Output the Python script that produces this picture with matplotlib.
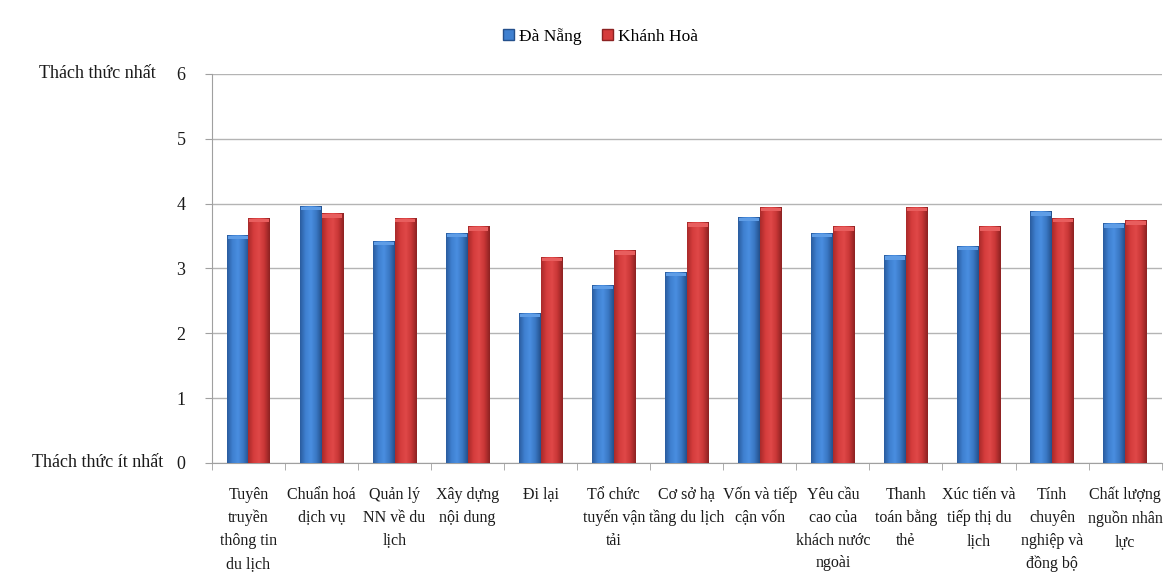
import numpy as np
import matplotlib.pyplot as plt
from matplotlib.colors import LinearSegmentedColormap
from matplotlib.patches import Patch

plt.rcParams['font.family'] = ['Liberation Serif', 'DejaVu Serif']

categories = [
    "Tuyên\ntruyền\nthông tin\ndu lịch",
    "Chuẩn hoá\ndịch vụ",
    "Quản lý\nNN về du\nlịch",
    "Xây dựng\nnội dung",
    "Đi lại",
    "Tổ chức\ntuyến vận\ntải",
    "Cơ sở hạ\ntầng du lịch",
    "Vốn và tiếp\ncận vốn",
    "Yêu cầu\ncao của\nkhách nước\nngoài",
    "Thanh\ntoán bằng\nthẻ",
    "Xúc tiến và\ntiếp thị du\nlịch",
    "Tính\nchuyên\nnghiệp và\nđồng bộ",
    "Chất lượng\nnguồn nhân\nlực",
]
da_nang = [3.52, 3.97, 3.43, 3.55, 2.32, 2.75, 2.95, 3.80, 3.55, 3.20, 3.35, 3.88, 3.70]
khanh_hoa = [3.78, 3.85, 3.78, 3.65, 3.18, 3.28, 3.71, 3.95, 3.65, 3.95, 3.65, 3.78, 3.74]
series_names = ["Đà Nẵng", "Khánh Hoà"]

# shading for the cylinder-like bars: dark edges, light middle
blue_cmap = LinearSegmentedColormap.from_list(
    "b", ["#2a5c9e", "#3f80d0", "#4a8ee0", "#3a78c4", "#24508c"])
red_cmap = LinearSegmentedColormap.from_list(
    "r", ["#a82a2a", "#d53c3c", "#e04848", "#c83636", "#8c2222"])

fig = plt.figure(figsize=(11.71, 5.82), dpi=100)
ax = fig.add_axes([0.181, 0.2045, 0.811, 0.6685])

x = np.arange(len(categories))
w = 0.297
bars_b = ax.bar(x - w / 2, da_nang, w, color="none", zorder=3)
bars_r = ax.bar(x + w / 2, khanh_hoa, w, color="none", zorder=3)

grad = np.linspace(0, 1, 64).reshape(1, -1)
for bars, cmap, cap in [(bars_b, blue_cmap, "#5f9de6"), (bars_r, red_cmap, "#e85e5e")]:
    for p in bars:
        x0, y0 = p.get_x(), p.get_y()
        bw, bh = p.get_width(), p.get_height()
        im = ax.imshow(grad, cmap=cmap, aspect="auto", extent=[x0, x0 + bw, y0, y0 + bh],
                       interpolation="bilinear", zorder=3)
        im.set_clip_path(p)
        # bevelled top
        ax.add_patch(plt.Rectangle((x0 + bw * 0.04, y0 + bh - 0.07), bw * 0.92, 0.055,
                                   facecolor=cap, edgecolor="none", zorder=4))

ax.set_xlim(-0.5, len(categories) - 0.5)
ax.set_ylim(0, 6)
ax.set_yticks(range(0, 7))
ax.yaxis.grid(True, color="#b4b4b4", linewidth=1.0, zorder=0)
ax.set_axisbelow(True)

ax.set_xticks(x)
ax.set_xticklabels(categories, fontsize=11.5, color="#1a1a1a", linespacing=1.58, va="top")
ax.tick_params(axis="x", length=0, pad=17)
ax.set_xticks(np.arange(-0.5, len(categories)), minor=True)
ax.tick_params(axis="x", which="minor", length=5, color="#a0a0a0", direction="out")
ax.tick_params(axis="y", length=5, color="#a0a0a0", labelsize=13, labelcolor="#1a1a1a", pad=14)

for s in ["top", "right"]:
    ax.spines[s].set_visible(False)
for s in ["left", "bottom"]:
    ax.spines[s].set_color("#a0a0a0")

fig.text(0.083, 0.873, "Thách thức nhất", ha="center", va="center", fontsize=13, color="#1a1a1a")
fig.text(0.083, 0.2045, "Thách thức ít nhất", ha="center", va="center", fontsize=13, color="#1a1a1a")

handles = [Patch(facecolor="#3f80d0", edgecolor="#24508c"),
           Patch(facecolor="#d53c3c", edgecolor="#8c2222")]
fig.legend(handles, series_names, loc="center", bbox_to_anchor=(0.513, 0.938), ncol=2,
           frameon=False, fontsize=12.5, handlelength=0.6, handleheight=0.6,
           handletextpad=0.3, columnspacing=1.2)

fig.savefig("out.png", dpi=100)
